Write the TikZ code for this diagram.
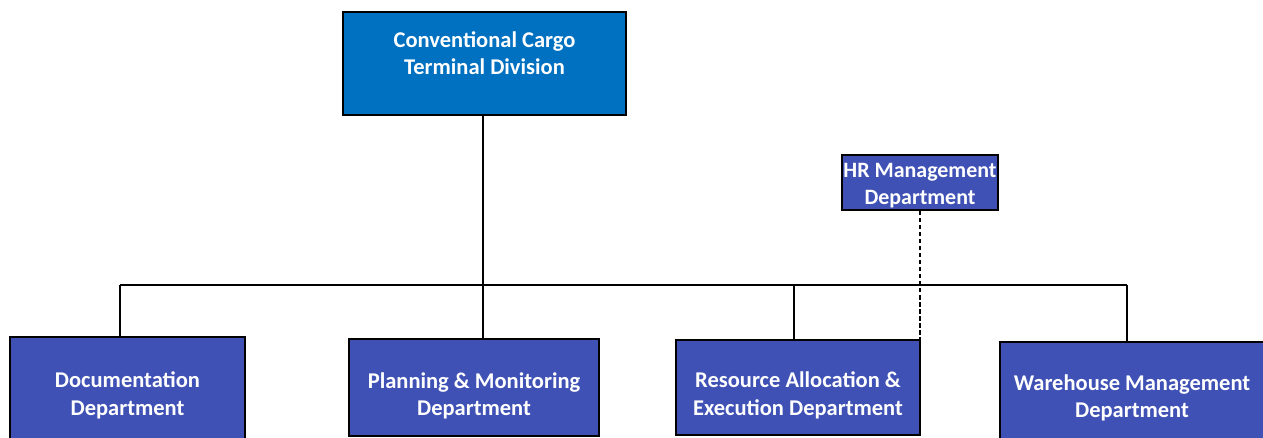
\documentclass[tikz,border=0pt]{standalone}
\usepackage{fontspec}
\setmainfont{Carlito}
\usetikzlibrary{positioning}

\definecolor{divisionblue}{HTML}{0070C0}
\definecolor{deptblue}{HTML}{3F51B5}

\begin{document}
\begin{tikzpicture}
        [
        x = 0.025cm, y = -0.025cm,
        unit/.style = {
            draw, line width = 1.3pt,
            fill = deptblue,
            inner sep = 0pt,
        },
        caption/.style = {
            text = white,
            align = center,
            font = \bfseries\fontsize{16}{19.5}\selectfont,
        },
        link/.style = {line width = 1.3pt},
        ]
        \useasboundingbox (0,0) rectangle (1263,438);

        % Division
        \node[unit, fill = divisionblue, minimum width = 7.075cm, minimum height = 2.575cm] (cctd) at (484.5,63.5) {};
        \node[caption] (cctd_text) at (484.5,53) {Conventional Cargo \\ Terminal Division};

        % Staff unit
        \node[unit, minimum width = 3.9cm, minimum height = 1.375cm] (hr) at (920,182.5) {};
        \node[caption, font = \bfseries\fontsize{15.6}{19.5}\selectfont] (hr_text) at (920,185.5) {HR Management \\ Department};

        % Departments
        \node[unit, minimum width = 5.875cm, minimum height = 2.575cm] (doc) at (127.5,388.5) {};
        \node[unit, minimum width = 6.25cm, minimum height = 2.425cm] (plan) at (474,387.5) {};
        \node[unit, minimum width = 6.1cm, minimum height = 2.375cm] (res) at (798,387.5) {};
        \node[unit, minimum width = 6.6cm, minimum height = 2.45cm] (wh) at (1132,391) {};

        \node[caption] (doc_text) at (127.5,395.5) {Documentation \\ Department};
        \node[caption] (plan_text) at (474,396) {Planning \& Monitoring \\ Department};
        \node[caption] (res_text) at (798,395.5) {Resource Allocation \& \\ Execution Department};
        \node[caption] (wh_text) at (1132,398) {Warehouse Management \\ Department};

        % Bus
        \coordinate (doc_drop) at (120,285);
        \coordinate (plan_drop) at (483,285);
        \coordinate (res_drop) at (794,285);
        \coordinate (wh_drop) at (1127,285);

        \path
            [
            link
            ]
            (plan_drop |- cctd.south) edge (plan_drop |- plan.north)
            (doc_drop) edge (wh_drop)
            (doc_drop) edge (doc_drop |- doc.north)
            (res_drop) edge (res_drop |- res.north)
            (wh_drop) edge (wh_drop |- wh.north);

        \path
            [
            link, dash pattern = on 3pt off 2pt
            ]
            (hr.south) edge (hr.south |- res.north);
\end{tikzpicture}
\end{document}
